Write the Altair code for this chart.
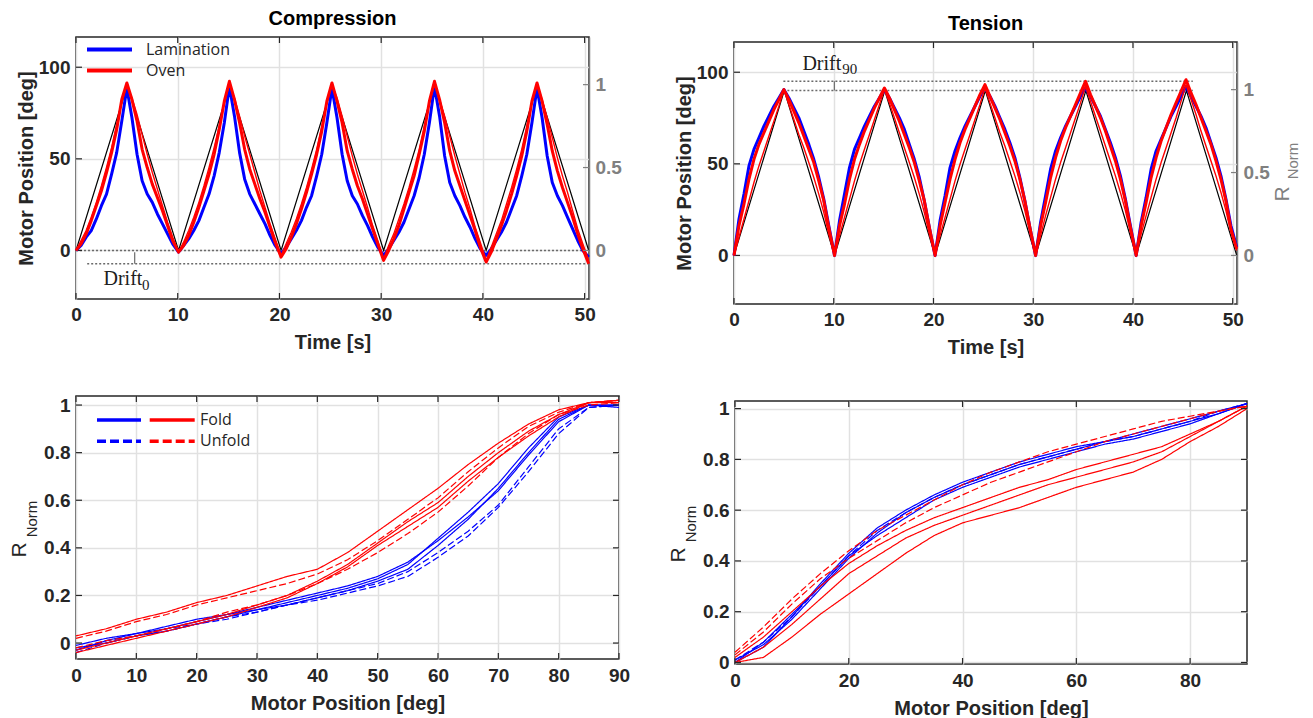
import altair as alt
import pandas as pd

# ---------------- data: top panels (time series) ----------------
PHASE = [0.0, 0.5, 1.0, 1.5, 2.0, 2.5, 3.0, 3.5, 4.0, 4.5,
         5.0, 5.5, 6.0, 6.5, 7.0, 7.5, 8.0, 8.5, 9.0, 9.5]
CYCLE_START = [0.0, 10.08, 20.16, 30.24, 40.32]
T_END = 50.4

# motor position (black reference), deg
MOTOR_T = [0.0, 5.04, 10.08, 15.12, 20.16, 25.2, 30.24, 35.28, 40.32, 45.36, 50.4]
MOTOR_DEG = [0, 90, 0, 90, 0, 90, 0, 90, 0, 90, 0]

# Compression, R_Norm per cycle
C_LAM = [
    [0.00, 0.03, 0.08, 0.12, 0.19, 0.27, 0.34, 0.46, 0.59, 0.78, 0.98, 0.80, 0.58, 0.42, 0.34, 0.29, 0.22, 0.16, 0.10, 0.04],
    [-0.01, 0.03, 0.07, 0.12, 0.18, 0.26, 0.34, 0.45, 0.59, 0.77, 0.99, 0.81, 0.59, 0.43, 0.34, 0.28, 0.22, 0.16, 0.09, 0.03],
    [-0.02, 0.02, 0.07, 0.12, 0.18, 0.26, 0.33, 0.45, 0.58, 0.77, 0.98, 0.80, 0.58, 0.42, 0.33, 0.28, 0.21, 0.15, 0.08, 0.02],
    [-0.03, 0.01, 0.06, 0.11, 0.17, 0.25, 0.33, 0.44, 0.58, 0.77, 0.99, 0.81, 0.57, 0.41, 0.33, 0.27, 0.20, 0.14, 0.07, 0.01],
    [-0.03, 0.01, 0.06, 0.11, 0.17, 0.25, 0.33, 0.45, 0.58, 0.77, 0.98, 0.80, 0.57, 0.41, 0.33, 0.27, 0.20, 0.13, 0.06, 0.00],
]
C_LAM_END = -0.04
C_OVEN = [
    [0.00, 0.04, 0.10, 0.18, 0.27, 0.36, 0.47, 0.59, 0.73, 0.91, 1.01, 0.91, 0.78, 0.61, 0.50, 0.40, 0.32, 0.24, 0.15, 0.06],
    [-0.01, 0.03, 0.09, 0.17, 0.26, 0.36, 0.46, 0.58, 0.73, 0.90, 1.02, 0.91, 0.77, 0.61, 0.49, 0.40, 0.31, 0.23, 0.14, 0.05],
    [-0.04, 0.01, 0.08, 0.16, 0.25, 0.35, 0.46, 0.58, 0.72, 0.90, 1.01, 0.90, 0.77, 0.60, 0.49, 0.39, 0.31, 0.22, 0.13, 0.04],
    [-0.06, 0.00, 0.07, 0.15, 0.25, 0.35, 0.45, 0.58, 0.72, 0.90, 1.02, 0.91, 0.77, 0.60, 0.48, 0.39, 0.30, 0.21, 0.12, 0.02],
    [-0.07, -0.01, 0.07, 0.15, 0.24, 0.34, 0.45, 0.57, 0.72, 0.90, 1.01, 0.90, 0.76, 0.60, 0.48, 0.38, 0.29, 0.20, 0.10, 0.01],
]
C_OVEN_END = -0.08
C_OVEN2 = [
    [0.00, 0.06, 0.12, 0.20, 0.29, 0.39, 0.50, 0.62, 0.76, 0.89, 1.00, 0.92, 0.82, 0.70, 0.58, 0.47, 0.37, 0.27, 0.17, 0.08],
    [-0.01, 0.05, 0.12, 0.20, 0.29, 0.39, 0.50, 0.62, 0.75, 0.89, 1.00, 0.92, 0.81, 0.69, 0.58, 0.47, 0.36, 0.26, 0.16, 0.07],
    [-0.03, 0.04, 0.11, 0.19, 0.28, 0.38, 0.49, 0.61, 0.75, 0.89, 1.00, 0.92, 0.81, 0.69, 0.57, 0.46, 0.36, 0.26, 0.15, 0.06],
    [-0.05, 0.03, 0.10, 0.19, 0.28, 0.38, 0.49, 0.61, 0.75, 0.89, 1.00, 0.91, 0.81, 0.69, 0.57, 0.46, 0.35, 0.25, 0.14, 0.05],
    [-0.06, 0.02, 0.10, 0.18, 0.28, 0.38, 0.49, 0.61, 0.75, 0.89, 1.00, 0.91, 0.80, 0.68, 0.56, 0.45, 0.35, 0.24, 0.13, 0.04],
]
C_OVEN2_END = -0.06

# Tension, R_Norm per cycle
T_LAM = [
    [0.00, 0.22, 0.37, 0.54, 0.64, 0.71, 0.78, 0.84, 0.90, 0.95, 1.00, 0.95, 0.89, 0.83, 0.75, 0.67, 0.58, 0.47, 0.34, 0.18],
    [0.00, 0.21, 0.37, 0.53, 0.64, 0.71, 0.78, 0.84, 0.90, 0.95, 1.00, 0.95, 0.89, 0.83, 0.76, 0.67, 0.58, 0.47, 0.33, 0.17],
    [0.00, 0.21, 0.36, 0.53, 0.63, 0.71, 0.78, 0.84, 0.90, 0.96, 1.01, 0.96, 0.90, 0.83, 0.76, 0.68, 0.59, 0.47, 0.33, 0.17],
    [0.00, 0.20, 0.36, 0.52, 0.63, 0.71, 0.78, 0.84, 0.90, 0.96, 1.01, 0.96, 0.90, 0.84, 0.76, 0.68, 0.59, 0.48, 0.34, 0.18],
    [0.00, 0.20, 0.35, 0.52, 0.63, 0.70, 0.77, 0.84, 0.90, 0.96, 1.02, 0.96, 0.90, 0.84, 0.77, 0.68, 0.59, 0.48, 0.34, 0.18],
]
T_LAM_END = 0.05
T_OVEN = [
    [0.00, 0.18, 0.31, 0.46, 0.58, 0.67, 0.74, 0.81, 0.88, 0.94, 1.00, 0.94, 0.87, 0.80, 0.72, 0.64, 0.56, 0.45, 0.33, 0.17],
    [0.00, 0.18, 0.31, 0.46, 0.58, 0.67, 0.75, 0.82, 0.89, 0.95, 1.01, 0.95, 0.88, 0.81, 0.73, 0.65, 0.56, 0.45, 0.33, 0.17],
    [0.00, 0.18, 0.32, 0.46, 0.58, 0.68, 0.76, 0.83, 0.90, 0.97, 1.03, 0.96, 0.89, 0.82, 0.74, 0.66, 0.57, 0.46, 0.33, 0.17],
    [0.00, 0.18, 0.32, 0.47, 0.59, 0.69, 0.77, 0.84, 0.91, 0.98, 1.05, 0.97, 0.90, 0.83, 0.75, 0.66, 0.57, 0.46, 0.33, 0.17],
    [0.00, 0.18, 0.32, 0.47, 0.59, 0.69, 0.77, 0.85, 0.92, 0.99, 1.06, 0.98, 0.91, 0.83, 0.75, 0.67, 0.57, 0.46, 0.33, 0.16],
]
T_OVEN_END = 0.04
T_OVEN2 = [
    [0.00, 0.11, 0.22, 0.33, 0.44, 0.54, 0.63, 0.72, 0.81, 0.90, 1.00, 0.91, 0.82, 0.73, 0.65, 0.56, 0.47, 0.37, 0.26, 0.13],
    [0.00, 0.12, 0.23, 0.34, 0.45, 0.55, 0.64, 0.73, 0.82, 0.91, 1.00, 0.92, 0.83, 0.74, 0.65, 0.56, 0.47, 0.37, 0.26, 0.13],
    [0.00, 0.12, 0.23, 0.34, 0.45, 0.55, 0.64, 0.73, 0.82, 0.91, 1.01, 0.92, 0.83, 0.74, 0.66, 0.57, 0.48, 0.38, 0.27, 0.14],
    [0.00, 0.12, 0.24, 0.35, 0.46, 0.56, 0.65, 0.74, 0.83, 0.92, 1.02, 0.93, 0.84, 0.75, 0.66, 0.57, 0.48, 0.38, 0.27, 0.14],
    [0.00, 0.13, 0.24, 0.35, 0.46, 0.56, 0.65, 0.74, 0.83, 0.93, 1.03, 0.94, 0.85, 0.75, 0.66, 0.57, 0.48, 0.38, 0.27, 0.14],
]
T_OVEN2_END = 0.03

# drift annotations (t in s, position in deg)
C_DRIFT_LINES = {"t1": [0.0, 1.1], "t2": [50.4, 50.4], "deg": [0.0, -7.3]}
C_DRIFT_TICK = {"t": [5.77], "d1": [-1.0], "d2": [-7.3]}
C_DRIFT_TEXT = {"t": [2.7, 6.5], "deg": [-19.1, -21.6], "txt": ["Drift", "0"], "size": [20, 15]}
T_DRIFT_LINES = {"t1": [4.95, 4.95], "t2": [46.0, 46.0], "deg": [95.1, 90.0]}
T_DRIFT_TICK = {"t": [10.06], "d1": [90.0], "d2": [95.1]}
T_DRIFT_TEXT = {"t": [6.86, 10.85], "deg": [101.3, 99.0], "txt": ["Drift", "90"], "size": [20, 15]}

# ---------------- data: bottom panels (R vs motor position) ----------------
POS = [0, 5, 10, 15, 20, 25, 30, 35, 40, 45, 50, 55, 60, 65, 70, 75, 80, 85, 90]

BL_LAM_FOLD = [
    [-0.02, 0.00, 0.03, 0.05, 0.08, 0.11, 0.14, 0.17, 0.20, 0.23, 0.27, 0.33, 0.44, 0.55, 0.67, 0.82, 0.95, 1.00, 1.00],
    [-0.03, 0.01, 0.04, 0.06, 0.09, 0.12, 0.15, 0.18, 0.21, 0.24, 0.28, 0.34, 0.43, 0.53, 0.64, 0.79, 0.93, 1.00, 0.99],
    [-0.01, 0.02, 0.04, 0.07, 0.10, 0.12, 0.14, 0.16, 0.19, 0.22, 0.26, 0.31, 0.41, 0.52, 0.65, 0.80, 0.94, 1.00, 1.00],
]
BL_LAM_UNFOLD = [
    [-0.04, 0.00, 0.03, 0.05, 0.08, 0.10, 0.13, 0.16, 0.19, 0.22, 0.25, 0.30, 0.38, 0.47, 0.58, 0.74, 0.90, 0.99, 1.00],
    [-0.03, 0.01, 0.03, 0.06, 0.08, 0.11, 0.13, 0.16, 0.18, 0.21, 0.24, 0.28, 0.36, 0.45, 0.57, 0.72, 0.88, 0.99, 1.00],
]
BL_OVEN_FOLD = [
    [-0.04, -0.01, 0.02, 0.05, 0.08, 0.11, 0.15, 0.19, 0.25, 0.32, 0.41, 0.49, 0.57, 0.68, 0.78, 0.87, 0.95, 1.01, 1.01],
    [-0.03, 0.00, 0.03, 0.06, 0.09, 0.12, 0.16, 0.20, 0.26, 0.33, 0.42, 0.51, 0.59, 0.70, 0.80, 0.89, 0.96, 1.01, 1.02],
    [0.03, 0.06, 0.10, 0.13, 0.17, 0.20, 0.24, 0.28, 0.31, 0.38, 0.47, 0.56, 0.65, 0.75, 0.84, 0.92, 0.98, 1.01, 1.02],
]
BL_OVEN_UNFOLD = [
    [0.02, 0.05, 0.09, 0.12, 0.16, 0.19, 0.22, 0.25, 0.29, 0.35, 0.43, 0.52, 0.61, 0.72, 0.82, 0.91, 0.97, 1.01, 1.02],
    [-0.02, 0.01, 0.03, 0.06, 0.09, 0.13, 0.16, 0.20, 0.25, 0.31, 0.38, 0.46, 0.55, 0.66, 0.78, 0.88, 0.96, 1.00, 1.01],
]
BR_LAM_FOLD = [
    [0.00, 0.08, 0.19, 0.30, 0.42, 0.50, 0.57, 0.64, 0.69, 0.73, 0.77, 0.80, 0.83, 0.86, 0.88, 0.91, 0.94, 0.98, 1.02],
    [0.01, 0.07, 0.17, 0.29, 0.41, 0.51, 0.59, 0.65, 0.70, 0.74, 0.78, 0.81, 0.84, 0.87, 0.89, 0.92, 0.95, 0.98, 1.02],
    [0.00, 0.06, 0.18, 0.31, 0.43, 0.53, 0.60, 0.66, 0.71, 0.75, 0.79, 0.82, 0.85, 0.87, 0.90, 0.93, 0.96, 0.99, 1.02],
]
BR_LAM_UNFOLD = [
    [0.01, 0.08, 0.18, 0.30, 0.42, 0.52, 0.59, 0.65, 0.70, 0.74, 0.78, 0.81, 0.84, 0.87, 0.89, 0.92, 0.95, 0.99, 1.02],
]
BR_OVEN_FOLD = [
    [0.00, 0.02, 0.10, 0.19, 0.27, 0.35, 0.43, 0.50, 0.55, 0.58, 0.61, 0.65, 0.69, 0.72, 0.75, 0.80, 0.87, 0.93, 1.00],
    [0.00, 0.06, 0.15, 0.25, 0.35, 0.42, 0.49, 0.54, 0.58, 0.62, 0.66, 0.70, 0.73, 0.76, 0.79, 0.83, 0.89, 0.95, 1.01],
    [0.02, 0.10, 0.20, 0.30, 0.39, 0.46, 0.52, 0.57, 0.61, 0.65, 0.69, 0.72, 0.76, 0.79, 0.82, 0.85, 0.90, 0.95, 1.01],
]
BR_OVEN_UNFOLD = [
    [0.04, 0.14, 0.25, 0.35, 0.44, 0.52, 0.58, 0.64, 0.70, 0.75, 0.79, 0.83, 0.86, 0.89, 0.92, 0.95, 0.97, 0.99, 1.01],
    [0.03, 0.12, 0.23, 0.33, 0.41, 0.48, 0.55, 0.61, 0.66, 0.71, 0.75, 0.79, 0.83, 0.87, 0.90, 0.93, 0.96, 0.99, 1.01],
]

TIME_TICKS = [0, 10, 20, 30, 40, 50]
DEG_TICKS = [0, 50, 100]
RT_TICKS = [0, 0.5, 1]
R_TICKS = [0, 0.2, 0.4, 0.6, 0.8, 1]
BL_POS_TICKS = [0, 10, 20, 30, 40, 50, 60, 70, 80, 90]
BR_POS_TICKS = [0, 20, 40, 60, 80]

BLUE = "#0000ff"
RED = "#ff0000"
INK = "#262626"
GRAY = "#808080"
FONT = "Liberation Sans"
TICK = 6

# ---------------- helpers ----------------
def cycles_df(series):
    rows = []
    for name, cycles, end, col, sw in series:
        for k, start in enumerate(CYCLE_START):
            for ph, v in zip(PHASE, cycles[k]):
                rows.append({"t": round(start + ph, 3), "R": v, "trace": name, "col": col, "sw": sw})
        rows.append({"t": T_END, "R": end, "trace": name, "col": col, "sw": sw})
    return pd.DataFrame(rows)


def curves_df(series):
    rows = []
    for name, curves, col, dash in series:
        for i, c in enumerate(curves):
            for x, v in zip(POS, c):
                rows.append({"pos": x, "R": v, "trace": f"{name}{i}", "col": col, "dash": dash})
    return pd.DataFrame(rows)


one = pd.DataFrame({"a": [0]})


def x_ticks(vals, field, scale, axis, h, color=INK):
    d = pd.DataFrame({field: vals})
    enc = alt.X(f"{field}:Q", scale=scale, axis=axis)
    return [alt.Chart(d).mark_rule(color=color, strokeWidth=1.2).encode(
                x=enc, y=alt.value(0), y2=alt.value(TICK)),
            alt.Chart(d).mark_rule(color=color, strokeWidth=1.2).encode(
                x=enc, y=alt.value(h - TICK), y2=alt.value(h))]


def y_ticks(vals, field, scale, axis, w, sides, color=INK):
    d = pd.DataFrame({field: vals})
    enc = alt.Y(f"{field}:Q", scale=scale, axis=axis)
    out = []
    if "left" in sides:
        out.append(alt.Chart(d).mark_rule(color=color, strokeWidth=1.2).encode(
            y=enc, x=alt.value(0), x2=alt.value(TICK)))
    if "right" in sides:
        out.append(alt.Chart(d).mark_rule(color=color, strokeWidth=1.2).encode(
            y=enc, x=alt.value(w - TICK), x2=alt.value(w)))
    return out


def spacer():
    return alt.Chart(one).mark_rule(opacity=0).encode(
        x=alt.value(0), y=alt.value(0), y2=alt.value(1)
    ).properties(width=1, height=1, view=alt.ViewBackground(stroke=None, fill=None))


X_TIME = alt.Scale(domain=[0, 50.43], nice=False, zero=False)
Y_DEG = alt.Scale(domain=[-26.5, 116.5], nice=False, zero=False)
Y_RT = alt.Scale(domain=[-26.5 / 90.5, 116.5 / 90.5], nice=False, zero=False)


def top_panel(title, w, h, series, drift_lines, drift_tick, drift_text, legend, rnorm_title):
    x_ax = alt.Axis(values=TIME_TICKS, title="Time [s]", grid=True, labelFlush=False,
                    labelPadding=6, titleX=w / 2, titleY=43.5, titleBaseline="middle")
    yl_ax = alt.Axis(values=DEG_TICKS, title="Motor Position [deg]", grid=True,
                     labelPadding=6, titleX=-49.5, titleY=h / 2, titleBaseline="middle")
    yr_ax = alt.Axis(orient="right", values=RT_TICKS, title=None, grid=False, format="~g",
                     labelPadding=6, labelColor=GRAY, domain=True, domainColor=GRAY, domainWidth=1.5)
    x = alt.X("t:Q", scale=X_TIME, axis=x_ax)

    motor = alt.Chart(pd.DataFrame({"t": MOTOR_T, "deg": MOTOR_DEG})).mark_line(
        color="black", strokeWidth=1.2).encode(x=x, y=alt.Y("deg:Q", scale=Y_DEG, axis=yl_ax))
    dl = alt.Chart(pd.DataFrame(drift_lines)).mark_rule(
        color="#6a6a6a", strokeDash=[2, 2], strokeWidth=1.6).encode(
        x=alt.X("t1:Q", scale=X_TIME, axis=x_ax), x2="t2:Q",
        y=alt.Y("deg:Q", scale=Y_DEG, axis=yl_ax))
    dt = alt.Chart(pd.DataFrame(drift_tick)).mark_rule(color="#6a6a6a", strokeWidth=1.2).encode(
        x=alt.X("t:Q", scale=X_TIME, axis=x_ax),
        y=alt.Y("d1:Q", scale=Y_DEG, axis=yl_ax), y2="d2:Q")
    dtx = alt.Chart(pd.DataFrame(drift_text)).mark_text(
        font="Liberation Serif", align="left", baseline="alphabetic", color="#202020").encode(
        x=alt.X("t:Q", scale=X_TIME, axis=x_ax),
        y=alt.Y("deg:Q", scale=Y_DEG, axis=yl_ax), text="txt:N",
        size=alt.Size("size:Q", scale=None))
    left_layers = [motor, dl, dt, dtx]
    left_layers += x_ticks(TIME_TICKS, "tk", X_TIME, x_ax, h)
    left_layers += y_ticks(DEG_TICKS, "dk", Y_DEG, yl_ax, w, ["left"])
    left = alt.layer(*left_layers)

    df = cycles_df(series)
    lines = alt.Chart(df).mark_line(strokeJoin="round").encode(
        x=x, y=alt.Y("R:Q", scale=Y_RT, axis=yr_ax),
        color=alt.Color("col:N", scale=None),
        strokeWidth=alt.StrokeWidth("sw:Q", scale=None),
        detail="trace:N")
    right_layers = [lines]
    right_layers += y_ticks(RT_TICKS, "R", Y_RT, yr_ax, w, ["right"], color=GRAY)
    if legend:
        for i, (lab, col) in enumerate(legend):
            yy = 12.5 + 21 * i
            right_layers.append(alt.Chart(one).mark_rule(color=col, strokeWidth=4).encode(
                x=alt.value(11), x2=alt.value(56), y=alt.value(yy)))
            right_layers.append(alt.Chart(one).mark_text(
                text=lab, font="Open Sans", fontSize=16, align="left", baseline="middle",
                color=INK).encode(x=alt.value(70), y=alt.value(yy)))
    if rnorm_title:
        right_layers.append(alt.Chart(one).mark_text(
            text="R", font=FONT, fontSize=21, angle=270, align="center", baseline="middle",
            color=GRAY).encode(x=alt.value(w + 46), y=alt.value(152)))
        right_layers.append(alt.Chart(one).mark_text(
            text="Norm", font=FONT, fontSize=15, angle=270, align="center", baseline="middle",
            color=GRAY).encode(x=alt.value(w + 56), y=alt.value(119)))
    right = alt.layer(*right_layers)
    return alt.layer(left, right).resolve_scale(y="independent").properties(
        width=w, height=h,
        title=alt.TitleParams(title, font=FONT, fontSize=20, fontWeight="bold", color="black",
                              offset=7, anchor="middle"))


def bottom_panel(w, h, xdom, xvals, ydom, series, legend):
    x_ax = alt.Axis(values=xvals, title="Motor Position [deg]", grid=True, labelFlush=False,
                    labelPadding=7, titleX=w / 2, titleY=44.5, titleBaseline="middle")
    y_ax = alt.Axis(values=R_TICKS, title=None, grid=True, format="~g", labelPadding=6)
    xs = alt.Scale(domain=xdom, nice=False, zero=False)
    ys = alt.Scale(domain=ydom, nice=False, zero=False)
    df = curves_df(series)
    lines = alt.Chart(df).mark_line(strokeWidth=1.2).encode(
        x=alt.X("pos:Q", scale=xs, axis=x_ax),
        y=alt.Y("R:Q", scale=ys, axis=y_ax),
        color=alt.Color("col:N", scale=None),
        strokeDash=alt.StrokeDash("dash:N", scale=alt.Scale(domain=["solid", "dashed"],
                                                           range=[[1, 0], [7, 3]]), legend=None),
        detail="trace:N")
    layers = [lines]
    layers += x_ticks(xvals, "pos", xs, x_ax, h)
    layers += y_ticks(R_TICKS, "R", ys, y_ax, w, ["left", "right"])
    layers.append(alt.Chart(one).mark_text(
        text="R", font=FONT, fontSize=21, angle=270, align="center", baseline="middle",
        color=INK).encode(x=alt.value(-56), y=alt.value(154)))
    layers.append(alt.Chart(one).mark_text(
        text="Norm", font=FONT, fontSize=15, angle=270, align="center", baseline="middle",
        color=INK).encode(x=alt.value(-44), y=alt.value(123)))
    if legend:
        for i, (lab, dash) in enumerate(legend):
            yy = 24 + 21.3 * i
            for j, col in enumerate([BLUE, RED]):
                layers.append(alt.Chart(one).mark_rule(color=col, strokeWidth=3.5, strokeDash=dash).encode(
                    x=alt.value(21 + 52.7 * j), x2=alt.value(65 + 53.7 * j), y=alt.value(yy)))
            layers.append(alt.Chart(one).mark_text(
                text=lab, font="Open Sans", fontSize=16, align="left", baseline="middle",
                color=INK).encode(x=alt.value(124), y=alt.value(yy)))
    return alt.layer(*layers).properties(width=w, height=h)


tl = top_panel(
    "Compression", 513, 262,
    [("lam", C_LAM, C_LAM_END, BLUE, 3.0),
     ("oven2", C_OVEN2, C_OVEN2_END, RED, 1.4),
     ("oven", C_OVEN, C_OVEN_END, RED, 3.0)],
    C_DRIFT_LINES, C_DRIFT_TICK, C_DRIFT_TEXT,
    [("Lamination", BLUE), ("Oven", RED)], False)

tr = top_panel(
    "Tension", 503, 262,
    [("lam", T_LAM, T_LAM_END, BLUE, 3.0),
     ("oven2", T_OVEN2, T_OVEN2_END, RED, 1.4),
     ("oven", T_OVEN, T_OVEN_END, RED, 3.0)],
    T_DRIFT_LINES, T_DRIFT_TICK, T_DRIFT_TEXT,
    None, True)

bl = bottom_panel(
    543, 263, [0, 90], BL_POS_TICKS, [-0.067, 1.038],
    [("lf", BL_LAM_FOLD, BLUE, "solid"), ("lu", BL_LAM_UNFOLD, BLUE, "dashed"),
     ("of", BL_OVEN_FOLD, RED, "solid"), ("ou", BL_OVEN_UNFOLD, RED, "dashed")],
    [("Fold", [1, 0]), ("Unfold", [9, 4])])

br = bottom_panel(
    512, 263, [0, 90], BR_POS_TICKS, [-0.006, 1.03],
    [("lf", BR_LAM_FOLD, BLUE, "solid"), ("lu", BR_LAM_UNFOLD, BLUE, "dashed"),
     ("of", BR_OVEN_FOLD, RED, "solid"), ("ou", BR_OVEN_UNFOLD, RED, "dashed")],
    None)

top = alt.hconcat(tl, alt.vconcat(spacer(), tr, spacing=4, bounds="flush"), spacing=50)
bottom = alt.hconcat(bl, alt.vconcat(spacer(), br, spacing=4, bounds="flush"), spacing=36)

chart = alt.vconcat(top, bottom, spacing=35).properties(
    padding={"left": 0, "top": 0, "right": 0, "bottom": 0}
).configure_view(
    stroke=INK, strokeWidth=1.5
).configure_axis(
    labelFont=FONT, labelFontSize=19, labelFontWeight="bold", labelColor=INK,
    titleFont=FONT, titleFontSize=20, titleFontWeight="bold", titleColor=INK,
    gridColor="#e1e1e1", gridWidth=1.5, tickSize=0, domain=False
)

chart.save("out.html", embed_options={"renderer": "svg", "actions": False})
